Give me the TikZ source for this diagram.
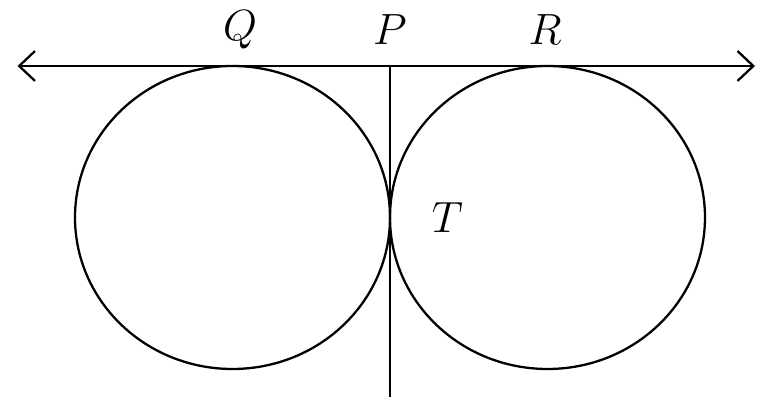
\documentclass[tikz,border=0pt]{standalone}
\usepackage{amsmath}
\usepackage{tikz}
\usetikzlibrary{positioning,arrows.meta}

\begin{document}
\begin{tikzpicture}[
  every node/.style={font=\fontsize{24}{28}\selectfont},
  curve/.style={line width=1.3pt},
  arrow/.style={{Straight Barb[length=9pt,width=17pt]}-{Straight Barb[length=9pt,width=17pt]},line width=1.3pt}]
\useasboundingbox (0,0) rectangle (15.2,8.2);
\coordinate (l) at (0.35,6.88);
\coordinate (r) at (15.1,6.88);
\coordinate (p) at (7.8,6.88);
\coordinate (t) at (7.8,3.85);
\coordinate (e) at (7.8,0.25);
\coordinate (o1) at (4.65,3.85);
\coordinate (o2) at (10.95,3.85);
\draw[curve] (o1) ellipse [x radius=3.15,y radius=3.03];
\draw[curve] (o2) ellipse [x radius=3.15,y radius=3.03];
\draw[arrow] (l) -- (r);
\draw[curve] (p) -- (t) -- (e);
\node (qlab) at (4.8,7.6) {$Q$};
\node (plab) at (7.8,7.6) {$P$};
\node (rlab) at (10.9,7.6) {$R$};
\node (tlab) at (8.95,3.85) {$T$};
\end{tikzpicture}
\end{document}
